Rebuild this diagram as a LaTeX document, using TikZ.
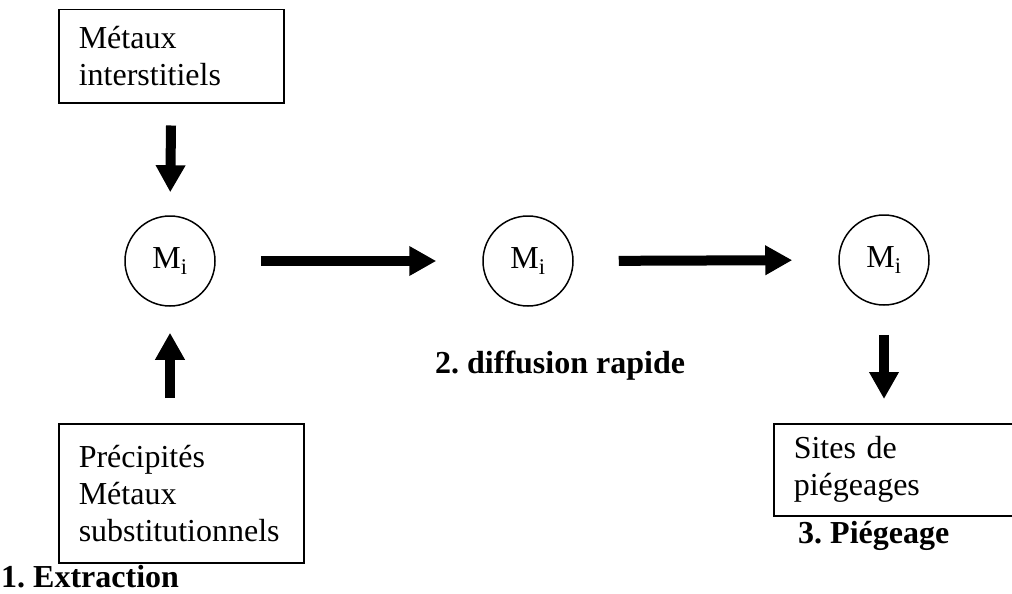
\documentclass[tikz,border=0pt]{standalone}
\usepackage{fontspec}
\setmainfont{Liberation Serif}
\usetikzlibrary{positioning,calc,arrows.meta}
\frenchspacing

\tikzset{
    boite/.style={draw, line width=1.5pt, anchor=north west, inner xsep=20pt, inner ysep=0pt,
        align=left, font=\fontsize{32}{37}\selectfont},
    atome/.style={draw, circle, line width=1.5pt, minimum size=90pt, inner sep=0pt,
        font=\fontsize{32}{36}\selectfont},
    fleche/.style={line width=10pt, -{Triangle[length=27pt,width=28pt]}},
    etape/.style={font=\bfseries\fontsize{32}{36}\selectfont, inner sep=0pt, anchor=base west}
}

\begin{document}
\begin{tikzpicture}[x=1pt, y=-1pt]
    \useasboundingbox (0,0) rectangle (1012,594);
    % boites
    \node[boite, text width=185pt, minimum height=93pt] (metaux) at (58,9) {Métaux\\interstitiels};
    \node[boite, text width=205pt, minimum height=139pt] (precip) at (58,423) {Précipités\\Métaux\\substitutionnels};
    \node[boite, text width=202pt, minimum height=92pt] (sites) at (773,423) {Sites de\\piégeages};
    % atomes
    \node[atome] (m1) at (170,261) {M\textsubscript{i}};
    \node[atome] (m2) at (528,261) {M\textsubscript{i}};
    \node[atome] (m3) at (884,260) {M\textsubscript{i}};
    % etapes
    \node[etape] (lbl1) at (1,587) {1. Extraction};
    \node[etape] (lbl2) at (435,373) {2. diffusion rapide};
    \node[etape] (lbl3) at (798,543) {3. Piégeage};
    % fleches
    \draw[fleche, shorten <=22pt, shorten >=23pt] (metaux.south) -- (m1.north);
    \draw[fleche, shorten <=25pt, shorten >=26pt] (m1.south |- precip.north) -- (m1.south);
    \draw[fleche, shorten <=45pt, shorten >=46pt] (m1.east) -- (m2.west);
    \draw[fleche, shorten <=45pt, shorten >=46pt] (m2.east) -- (m3.west);
    \draw[fleche, shorten <=29pt, shorten >=24pt] (m3.south) -- (m3.south |- sites.north);
\end{tikzpicture}
\end{document}
